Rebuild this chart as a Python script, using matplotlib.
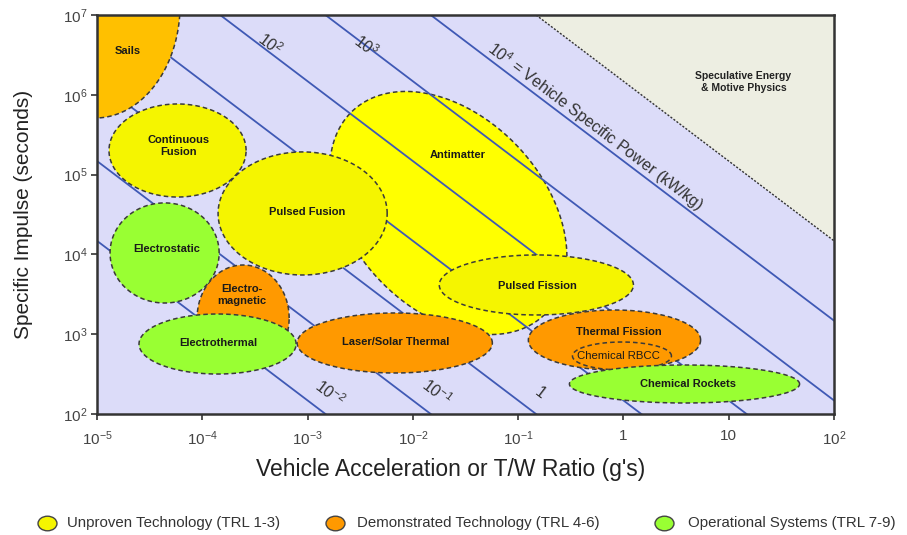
import numpy as np
import matplotlib
matplotlib.use("Agg")
import matplotlib.pyplot as plt
from matplotlib.lines import Line2D
from matplotlib.markers import MarkerStyle
from matplotlib.transforms import Affine2D

# ---------------- data ----------------
# constant specific-power lines (kW/kg): Isp = K * P / a
power_levels = [1e-2, 1e-1, 1.0, 1e1, 1e2, 1e3, 1e4]
speculative_power = 1e5
isp_power_const = 10 ** 1.17

# propulsion technology regions (log10 centres, half-extents in decades)
tech_names = ["Antimatter", "Sails", "Continuous\nFusion", "Pulsed Fusion",
              "Electro-\nmagnetic", "Electrostatic", "Electrothermal",
              "Laser/Solar Thermal", "Pulsed Fission", "Thermal Fission",
              "Chemical RBCC", "Chemical Rockets"]
tech_log_accel = [-1.663, -5.019, -4.235, -3.047, -3.612, -4.358, -3.855,
                  -2.172, -0.827, -0.085, -0.014, 0.580]
tech_log_isp = [4.519, 7.125, 5.302, 4.513, 3.203, 4.018, 2.877,
                2.890, 3.617, 2.927, 2.727, 2.376]
tech_half_width = [1.126, 0.808, 0.651, 0.803, 0.437, 0.518, 0.746,
                   0.927, 0.922, 0.818, 0.470, 1.093]
tech_half_height = [1.523, 1.416, 0.583, 0.771, 0.664, 0.627, 0.376,
                    0.376, 0.376, 0.376, 0.175, 0.238]
tech_phase_deg = [111, 90, 90, 90, 90, 90, 90, 90, 90, 90, 90, 90]
tech_trl = ["unproven", "sails", "unproven", "unproven", "demonstrated",
            "operational", "operational", "demonstrated", "unproven",
            "demonstrated", "demonstrated", "operational"]
# label anchor points (log10 a, log10 Isp)
label_log_accel = [-1.578, -4.705, -4.230, -3.004, -3.622, -4.335, -3.850,
                   -2.167, -0.817, -0.047, -0.047, 0.618]
label_log_isp = [5.246, 6.549, 5.358, 4.531, 3.491, 4.068, 2.890,
                 2.902, 3.604, 3.028, 2.727, 2.376]

legend_labels = ["Unproven Technology (TRL 1-3)",
                 "Demonstrated Technology (TRL 4-6)",
                 "Operational Systems (TRL 7-9)"]

x_ticks = [1e-5, 1e-4, 1e-3, 1e-2, 1e-1, 1, 10, 1e2]
x_tick_labels = [r"$10^{-5}$", r"$10^{-4}$", r"$10^{-3}$", r"$10^{-2}$",
                 r"$10^{-1}$", "1", "10", r"$10^{2}$"]
y_ticks = [1e2, 1e3, 1e4, 1e5, 1e6, 1e7]
y_tick_labels = [r"$10^{2}$", r"$10^{3}$", r"$10^{4}$", r"$10^{5}$",
                 r"$10^{6}$", r"$10^{7}$"]

power_label_text = [r"$10^{-2}$", r"$10^{-1}$", "1", None, r"$10^{2}$",
                    r"$10^{3}$", r"$10^{4}$ = Vehicle Specific Power (kW/kg)"]
power_label_pos = [(-2.785, 2.263), (-1.768, 2.276), (-0.789, 2.263), None,
                   (-3.355, 6.637), (-2.443, 6.612), (-0.266, 5.596)]

# ---------------- style ----------------
base_font = "Liberation Sans"
plt.rcParams["font.family"] = [base_font, "DejaVu Sans"]
plt.rcParams["mathtext.fontset"] = "custom"
plt.rcParams["mathtext.rm"] = base_font
plt.rcParams["mathtext.it"] = base_font + ":italic"
plt.rcParams["mathtext.bf"] = base_font + ":bold"

colors = {"unproven": "#F5F500", "antimatter": "#FFFF00",
          "demonstrated": "#FF9900", "operational": "#99FF33",
          "sails": "#FFC000"}
bg_color = "#DCDCF9"
spec_color = "#EDEEE2"
line_color = "#3F59B5"
edge_color = "#3A3A3A"

fig = plt.figure(figsize=(9.07, 5.35), dpi=100)
ax = fig.add_axes([97 / 907, 1 - 414 / 535, 737 / 907, 399 / 535])
ax.set_xscale("log")
ax.set_yscale("log")
xmin, xmax, ymin, ymax = 1e-5, 1e2, 1e2, 1e7
ax.set_xlim(xmin, xmax)
ax.set_ylim(ymin, ymax)
ax.set_facecolor(bg_color)

# power lines
a_grid = np.logspace(-5, 2, 400)
for P in power_levels:
    isp = isp_power_const * P / a_grid
    ax.plot(a_grid, isp, color=line_color, lw=1.3, zorder=2)

# speculative region above highest power line
a_top = isp_power_const * speculative_power / ymax
a_poly = np.logspace(np.log10(a_top), np.log10(xmax), 100)
isp_poly = isp_power_const * speculative_power / a_poly
px = np.concatenate([a_poly, [xmax]])
py = np.concatenate([isp_poly, [ymax]])
ax.fill(px, py, facecolor=spec_color, edgecolor="none", zorder=1.5)
ax.plot(a_poly, isp_poly, color="#333333", lw=1.0, ls=(0, (1.5, 1.2)), zorder=2.5)
ax.text(10 ** 1.141, 10 ** 6.16, "Speculative Energy\n& Motive Physics",
        ha="center", va="center", fontsize=7.5, fontweight="bold",
        color="#222222", linespacing=1.3, zorder=6)

# technology regions
t = np.linspace(0, 2 * np.pi, 400)
for i, name in enumerate(tech_names):
    cx, cy = tech_log_accel[i], tech_log_isp[i]
    W, H = tech_half_width[i], tech_half_height[i]
    d = np.deg2rad(tech_phase_deg[i])
    xs = 10 ** (cx + W * np.cos(t))
    ys = 10 ** (cy + H * np.cos(t - d))
    if name == "Antimatter":
        fc = colors["antimatter"]
        z = 1.8
    else:
        fc = colors[tech_trl[i]]
        z = 3 + i * 0.1
    ax.fill(xs, ys, facecolor=fc, edgecolor=edge_color, lw=1.1,
            ls=(0, (3, 2)), zorder=z)
    if name == "Chemical RBCC":
        fs, fw = 8.2, "normal"
    else:
        fs, fw = 8, "bold"
    ax.text(10 ** label_log_accel[i], 10 ** label_log_isp[i], name,
            ha="center", va="center", fontsize=fs, fontweight=fw,
            color="#1A1A1A", linespacing=1.25, zorder=z + 0.05)

# power line labels
for txt, pos in zip(power_label_text, power_label_pos):
    if txt is None:
        continue
    ax.text(10 ** pos[0], 10 ** pos[1], txt, rotation=-37.2,
            rotation_mode="anchor", ha="center", va="center",
            fontsize=11.5, color="#333333", zorder=7)

# axes styling
for s in ax.spines.values():
    s.set_color("#333333")
    s.set_linewidth(1.8)
    s.set_zorder(10)
ax.set_xticks(x_ticks)
ax.set_xticklabels(x_tick_labels, fontsize=11, color="#444444")
ax.set_yticks(y_ticks)
ax.set_yticklabels(y_tick_labels, fontsize=11, color="#444444")
ax.minorticks_off()
ax.tick_params(direction="out", length=4, width=1.2, color="#333333")
ax.tick_params(axis="x", pad=7)
ax.tick_params(axis="y", pad=3)
ax.set_xlabel("Vehicle Acceleration or T/W Ratio (g's)", fontsize=16.5,
              color="#222222")
ax.xaxis.set_label_coords((451 - 97) / 737, -(458 - 414) / 399)
ax.set_ylabel("Specific Impulse (seconds)", fontsize=15, color="#222222")
ax.yaxis.set_label_coords(-(97 - 33) / 737, 0.5)

# legend (placed manually beneath the chart)
leg_colors = [colors["unproven"], colors["demonstrated"], colors["operational"]]
leg_marker_x = [47, 335, 664]
leg_text_x = [67, 357, 688]
leg_y = 1 - 523 / 535
oval = MarkerStyle("o", transform=Affine2D().scale(1.3, 1.0))
for c, lbl, mx, tx in zip(leg_colors, legend_labels, leg_marker_x, leg_text_x):
    fig.add_artist(Line2D([mx / 907], [leg_y], transform=fig.transFigure,
                          marker=oval, ls="none", markersize=10.5,
                          markerfacecolor=c, markeredgecolor="#444444",
                          markeredgewidth=1.0))
    fig.text(tx / 907, leg_y, lbl, ha="left", va="center", fontsize=10.8,
             color="#333333")

fig.savefig("out.png", dpi=100)
